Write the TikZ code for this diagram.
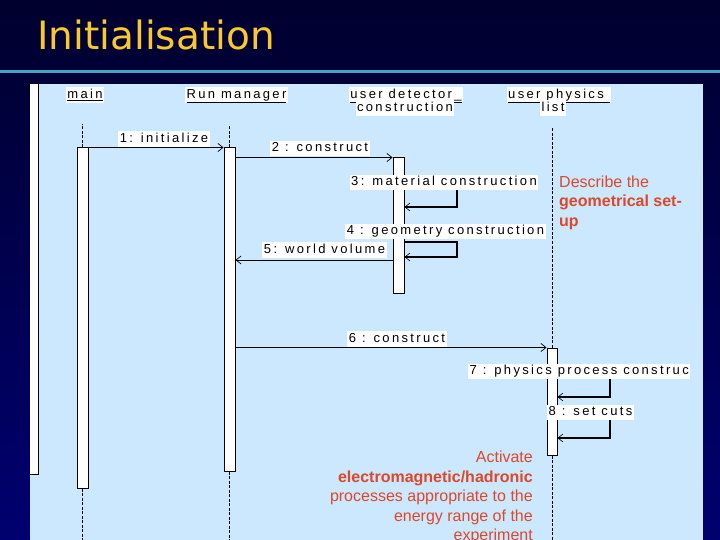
\documentclass[tikz,border=0pt]{standalone}
\usepackage{fontspec}
\setmainfont{Liberation Sans}
\newfontfamily\umlfont[LetterSpace=18]{Liberation Sans}
\newfontfamily\titlefont{DejaVu Sans}
\usetikzlibrary{positioning, calc, arrows.meta}
\definecolor{navytop}{RGB}{0,0,46}
\definecolor{navybottom}{RGB}{0,0,112}
\definecolor{rulecyan}{RGB}{64,168,192}
\definecolor{panelblue}{RGB}{204,232,255}
\definecolor{titleyellow}{RGB}{248,200,48}
\definecolor{notered}{RGB}{220,72,40}
\tikzset{
	umltext/.style={font=\umlfont\fontsize{13}{15}\selectfont, fill=white, inner sep=1.5pt, text height=9.5pt, text depth=3pt}
}
\tikzset{
	notetext/.style={font=\fontsize{16}{19.5}\selectfont\color{notered}, inner sep=0pt}
}
\tikzset{
	actbox/.style={draw, line width=1pt, fill=white, minimum width=11pt, inner sep=0pt},
	lifeline/.style={line width=0.6pt, dash pattern=on 3pt off 1.5pt},
	msg/.style={line width=0.7pt, -{Straight Barb[length=5pt,width=8pt]}},
	selfmsg/.style={line width=1.3pt, -{Straight Barb[length=5pt,width=8pt,line width=0.6pt]}}
}

\begin{document}
\begin{tikzpicture}[x=1pt, y=-1pt]
      \useasboundingbox (0,0) rectangle (720,540);
      \fill[top color=navytop, bottom color=navybottom] (0,0) rectangle (720,540);
      \node[font=\titlefont\fontsize{39}{45}\selectfont, text=titleyellow, anchor=base west, inner sep=0pt] (title) at (37,50) {Initialisation};
      \draw[rulecyan, line width=3pt] (0,72) -- (720,72);

      \begin{scope}
      \clip (30,84) rectangle (703,540);
      \fill[panelblue] (30,84) rectangle (703,540);
      \fill[white] (30,84) rectangle (38,474);
      \draw[line width=1pt] (38,84) -- (38,474) -- (30,474);

      % objects
      \node[umltext] (hmain) at (85,95) {\underline{main}};
      \node[umltext] (hrun) at (236.5,95) {\underline{Run manager}};
      \node[umltext] (hdet) at (406,95) {\underline{user detector\_}};
      \node[umltext] (hdetb) at (405,108) {construction};
      \node[umltext] (hphys) at (559,95) {\underline{user physics\ }};
      \node[umltext] (hphysb) at (553,108) {list};

      % activations and lifelines
      \node[actbox, minimum height=340pt] (mainbox) at (82.5,318) {};
      \node[actbox, minimum height=323pt] (runbox) at (229.5,309.5) {};
      \node[actbox, minimum height=135pt] (detbox) at (398.5,225.5) {};
      \node[actbox, minimum width=10pt, minimum height=107pt] (physbox) at (552,401.5) {};
      \draw[lifeline] (mainbox.north) -- ++(0,-23);
      \draw[lifeline] (mainbox.south) -- ++(0,60);
      \draw[lifeline] (runbox.north) -- ++(0,-21);
      \draw[lifeline] (runbox.south) -- ++(0,75);
      \draw[lifeline] (physbox.north) -- ++(0,-220);
      \draw[lifeline] (physbox.south) -- ++(0,90);

      % messages
      \node[umltext] (m1) at (164,139) {1: initialize};
      \draw[msg] (mainbox.north east) -- (runbox.north west);
      \node[umltext] (m2) at (320,148.5) {2 : construct};
      \draw[msg] (runbox.east |- detbox.north) -- (detbox.north west);
      \node[umltext] (m3) at (444,182.5) {3: material construction};
      \coordinate (r3) at (457,207);
      \draw[selfmsg] (m3.south -| r3) -- (r3) -- (r3 -| detbox.east);
      \node[umltext] (m4) at (445.5,231.5) {4 : geometry construction};
      \coordinate (t4) at (457,242);
      \coordinate (r4) at (457,257);
      \draw[selfmsg] (t4 -| detbox.east) -- (t4) -- (r4) -- (r4 -| detbox.east);
      \node[umltext] (m5) at (324.5,250) {5: world volume};
      \coordinate (y5) at (0,260);
      \draw[msg] (detbox.west |- y5) -- (runbox.east |- y5);
      \node[umltext] (m6) at (397,339) {6 : construct};
      \draw[msg] (runbox.east |- physbox.north) -- (physbox.north west);
      \node[umltext, anchor=west] (m7) at (468,371.5) {7 : physics process construc};
      \coordinate (r7) at (610,397);
      \draw[selfmsg] (m7.south -| r7) -- (r7) -- (r7 -| physbox.east);
      \node[umltext] (m8) at (590.5,412.5) {8 : set cuts};
      \coordinate (r8) at (610,438);
      \draw[selfmsg] (m8.south -| r8) -- (r8) -- (r8 -| physbox.east);

      % notes
      \node[notetext, anchor=north west, align=left] (setupnote) at (559,175.5) {Describe the\\\textbf{geometrical set-}\\\textbf{up}};
      \node[notetext, anchor=north east, align=right] (physnote) at (533,451) {Activate\\\textbf{electromagnetic/hadronic}\\processes appropriate to the\\energy range of the\\experiment};
      \end{scope}
\end{tikzpicture}
\end{document}
